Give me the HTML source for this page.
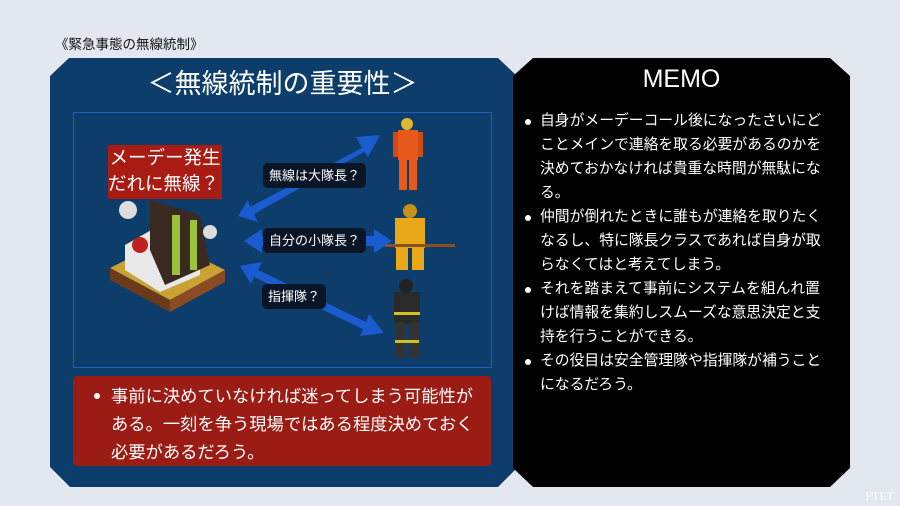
<!DOCTYPE html>
<html><head><meta charset="utf-8"><style>
*{margin:0;padding:0;box-sizing:border-box}
body{width:900px;height:506px;background:#e3e7ef;position:relative;overflow:hidden;font-family:"Liberation Sans","Noto Sans CJK JP",sans-serif}
.t{position:absolute;left:55px;top:33px;font-size:13.5px;color:#111}
.blue{position:absolute;left:50px;top:58px;width:467px;height:429px;background:#0c3d6b;clip-path:polygon(19px 0,448px 0,100% 18px,100% 410px,448px 100%,20px 100%,0 409px,0 18px)}
.black{position:absolute;left:513px;top:58px;width:337px;height:429px;background:#000;clip-path:polygon(20px 0,317px 0,100% 18px,100% 410px,317px 100%,20px 100%,0 410px,0 18px)}
.h1{position:absolute;left:50px;width:465px;top:62px;text-align:center;color:#fff;font-size:27px}
.memo{position:absolute;left:513px;width:337px;top:65px;text-align:center;color:#fff;font-size:25px}
.inner{position:absolute;left:73px;top:112px;width:419px;height:256px;border:1.5px solid #1f5cc0}
.red{position:absolute;left:73px;top:376px;width:418px;height:90px;background:#9b1c15;border-radius:4px}
.red p{position:absolute;left:38px;top:6px;color:#fff;font-size:17.3px;line-height:28px}
.dot{position:absolute;width:6px;height:6px;border-radius:3px;background:#fff}
.mt{position:absolute;left:540px;top:109px;color:#fff;font-size:14.8px;line-height:24px;white-space:nowrap}
.lbl{position:absolute;background:#0a1626;color:#fff;font-size:13px;border-radius:5px;padding:0 6px;height:25px;line-height:25px}
.rl{position:absolute;left:108px;top:145px;width:114px;height:54px;background:#a81c14;color:#fff;font-size:18.5px;line-height:26px;text-align:center}
</style></head><body>
<div class="t">《緊急事態の無線統制》</div>
<div class="blue"></div>
<div class="black"></div>
<div class="h1">＜無線統制の重要性＞</div>
<div class="memo">MEMO</div>
<div class="inner"></div>
<svg style="position:absolute;left:0;top:0" width="900" height="506">
<g fill="#1b5bd0">
<polygon points="250,207 362,148 356,137 380,135 368,157 364,152 254,214 258,222 238,216 248,200"/>
<polygon points="262,236 374,236 374,229 392,241 374,253 374,246 262,246 262,253 244,241 262,229"/>
<polygon points="258,270 366,322 369,314 384,333 360,336 363,329 254,277 251,284 240,266 262,262"/>
</g>
<g>
<polygon points="110,268 165,240 225,270 170,300" fill="#c9a233"/>
<polygon points="110,268 170,300 170,312 110,280" fill="#6b3a1a"/>
<polygon points="170,300 225,270 225,282 170,312" fill="#8a4a22"/>
<polygon points="125,245 160,225 200,245 200,275 160,292 125,270" fill="#e8e8e8"/>
<polygon points="150,200 200,215 210,265 165,285 150,250" fill="#3a2a22"/>
<rect x="172" y="215" width="8" height="60" fill="#9bc43a"/>
<rect x="190" y="220" width="7" height="50" fill="#9bc43a"/>
<circle cx="140" cy="245" r="8" fill="#c02020"/>
<circle cx="128" cy="210" r="9" fill="#ddd"/>
<circle cx="210" cy="232" r="7" fill="#ddd"/>
</g>
<g>
<rect x="398" y="130" width="20" height="30" fill="#e85a1c"/>
<circle cx="407" cy="124" r="6" fill="#e0b830"/>
<rect x="399" y="158" width="8" height="32" fill="#e85a1c"/><rect x="409" y="158" width="8" height="32" fill="#e85a1c"/>
<rect x="393" y="132" width="5" height="25" fill="#d04a14"/><rect x="418" y="132" width="5" height="25" fill="#d04a14"/>
</g>
<g>
<rect x="395" y="218" width="30" height="30" fill="#e8a818"/>
<circle cx="410" cy="211" r="7" fill="#c89018"/>
<rect x="396" y="246" width="12" height="24" fill="#e8a818"/><rect x="412" y="246" width="12" height="24" fill="#e8a818"/>
<rect x="385" y="244" width="70" height="3" fill="#8a5020"/>
</g>
<g>
<rect x="394" y="292" width="26" height="32" fill="#2a2a2a"/>
<circle cx="406" cy="286" r="7" fill="#222"/>
<rect x="395" y="322" width="10" height="36" fill="#333"/><rect x="409" y="322" width="10" height="36" fill="#333"/>
<rect x="394" y="312" width="26" height="3" fill="#d0c020"/><rect x="395" y="340" width="24" height="3" fill="#d0c020"/>
</g>
</svg>
<div class="rl">メーデー発生<br><span style="display:block;text-align:left">だれに無線？</span></div>
<div class="lbl" style="left:263px;top:163px">無線は大隊長？</div>
<div class="lbl" style="left:263px;top:228px">自分の小隊長？</div>
<div class="lbl" style="left:262px;top:284px">指揮隊？</div>
<div class="red"><div class="dot" style="left:21px;top:17px"></div><p>事前に決めていなければ迷ってしまう可能性が<br>ある。一刻を争う現場ではある程度決めておく<br>必要があるだろう。</p></div>
<div class="dot" style="left:525px;top:119px"></div>
<div class="dot" style="left:525px;top:215px"></div>
<div class="dot" style="left:525px;top:287px"></div>
<div class="dot" style="left:525px;top:359px"></div>
<div class="mt">自身がメーデーコール後になったさいにど<br>ことメインで連絡を取る必要があるのかを<br>決めておかなければ貴重な時間が無駄にな<br>る。<br>仲間が倒れたときに誰もが連絡を取りたく<br>なるし、特に隊長クラスであれば自身が取<br>らなくてはと考えてしまう。<br>それを踏まえて事前にシステムを組んれ置<br>けば情報を集約しスムーズな意思決定と支<br>持を行うことができる。<br>その役目は安全管理隊や指揮隊が補うこと<br>になるだろう。</div>
<div style="position:absolute;right:6px;bottom:2px;color:#fff;font-size:12px;font-family:'Liberation Serif',serif">FTET</div>
</body></html>
